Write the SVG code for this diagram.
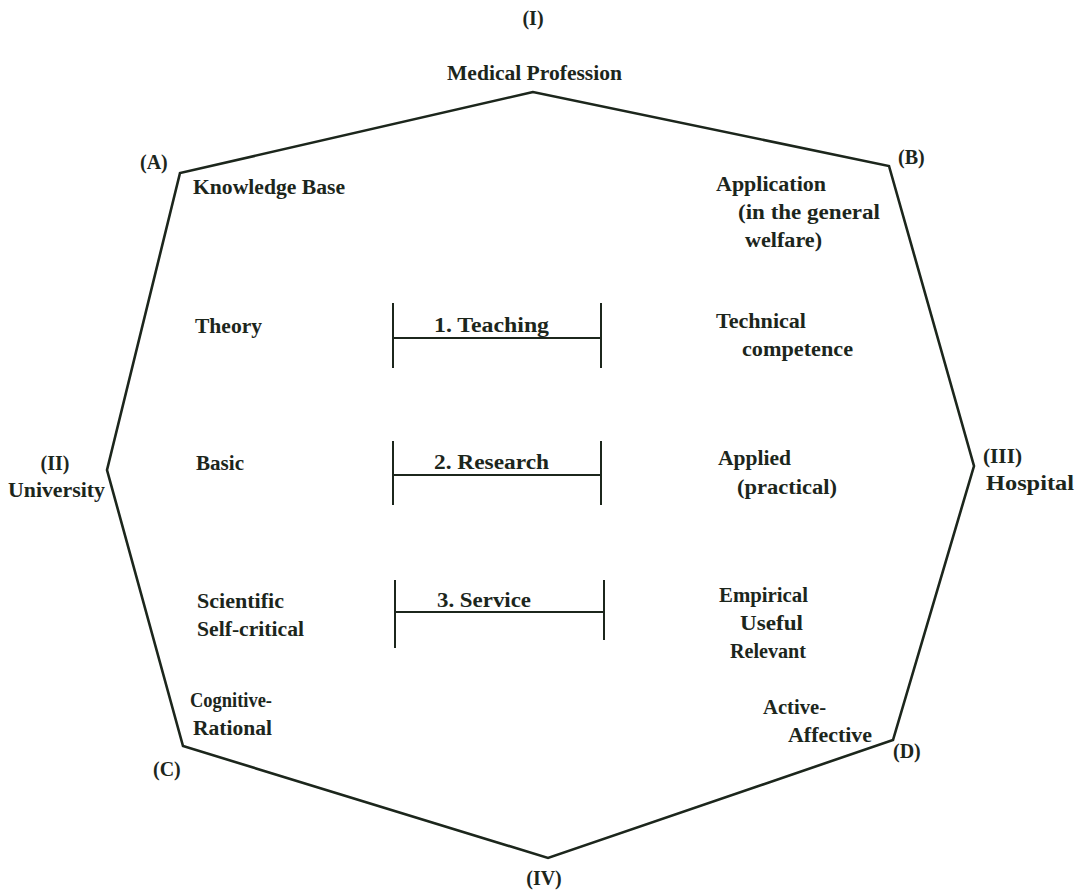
<svg xmlns="http://www.w3.org/2000/svg" width="1079" height="890" viewBox="0 0 1079 890">
<style>
text{font-family:"Liberation Serif","Times New Roman",serif;font-weight:bold;font-size:20px;fill:#1c261c}
.ln{stroke:#1c261c;stroke-width:2.6;fill:none;stroke-linejoin:miter}
.br{stroke:#1c261c;stroke-width:2;fill:none}
</style>
<rect width="1079" height="890" fill="#ffffff"/>
<g id="connectors">
<polygon id="octagon" class="ln" points="533,92 180,173 107,470 183,746 548,858 893,740 974,466 889,166"/>
</g>
<g id="label-I"><text x="533" y="25" text-anchor="middle">(I)</text><text x="447" y="80" textLength="175" lengthAdjust="spacingAndGlyphs">Medical Profession</text></g>
<g id="label-II"><text x="55" y="470" text-anchor="middle">(II)</text><text x="8" y="497" textLength="97" lengthAdjust="spacingAndGlyphs">University</text></g>
<g id="label-III"><text x="983" y="463" textLength="39" lengthAdjust="spacingAndGlyphs">(III)</text><text x="986" y="490" textLength="88" lengthAdjust="spacingAndGlyphs">Hospital</text></g>
<g id="label-IV"><text x="544" y="885" text-anchor="middle">(IV)</text></g>
<g id="label-A"><text x="140" y="169">(A)</text></g>
<g id="label-B"><text x="898" y="164">(B)</text></g>
<g id="label-C"><text x="153" y="776">(C)</text></g>
<g id="label-D"><text x="893" y="758">(D)</text></g>
<g id="knowledge-base"><text x="193" y="194" textLength="152" lengthAdjust="spacingAndGlyphs">Knowledge Base</text></g>
<g id="application"><text x="716" y="191" textLength="110" lengthAdjust="spacingAndGlyphs">Application</text><text x="738" y="219" textLength="142" lengthAdjust="spacingAndGlyphs">(in the general</text><text x="745" y="247" textLength="77" lengthAdjust="spacingAndGlyphs">welfare)</text></g>
<g id="theory"><text x="195" y="333" textLength="67" lengthAdjust="spacingAndGlyphs">Theory</text></g>
<g id="technical"><text x="716" y="328" textLength="90" lengthAdjust="spacingAndGlyphs">Technical</text><text x="742" y="356" textLength="111" lengthAdjust="spacingAndGlyphs">competence</text></g>
<g id="basic"><text x="196" y="470" textLength="48" lengthAdjust="spacingAndGlyphs">Basic</text></g>
<g id="applied"><text x="718" y="465" textLength="73" lengthAdjust="spacingAndGlyphs">Applied</text><text x="737" y="494" textLength="100" lengthAdjust="spacingAndGlyphs">(practical)</text></g>
<g id="scientific"><text x="197" y="608" textLength="87" lengthAdjust="spacingAndGlyphs">Scientific</text><text x="197" y="636" textLength="107" lengthAdjust="spacingAndGlyphs">Self-critical</text></g>
<g id="empirical"><text x="719" y="602" textLength="89" lengthAdjust="spacingAndGlyphs">Empirical</text><text x="740" y="630" textLength="63" lengthAdjust="spacingAndGlyphs">Useful</text><text x="730" y="658" textLength="76" lengthAdjust="spacingAndGlyphs">Relevant</text></g>
<g id="cognitive"><text x="190" y="707" textLength="82" lengthAdjust="spacingAndGlyphs">Cognitive-</text><text x="193" y="735" textLength="79" lengthAdjust="spacingAndGlyphs">Rational</text></g>
<g id="active"><text x="763" y="714" textLength="63" lengthAdjust="spacingAndGlyphs">Active-</text><text x="788" y="742" textLength="84" lengthAdjust="spacingAndGlyphs">Affective</text></g>
<g id="teaching"><path class="br" d="M393,303V368M601,303V368M393,338H601"/><text x="434" y="332" textLength="115" lengthAdjust="spacingAndGlyphs">1. Teaching</text></g>
<g id="research"><path class="br" d="M393,441V505M601,441V505M393,475H601"/><text x="434" y="469" textLength="115" lengthAdjust="spacingAndGlyphs">2. Research</text></g>
<g id="service"><path class="br" d="M395,580V648M604,580V640M395,612H604"/><text x="437" y="607" textLength="94" lengthAdjust="spacingAndGlyphs">3. Service</text></g>
</svg>
